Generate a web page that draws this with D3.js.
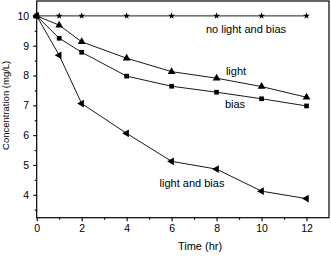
<!DOCTYPE html>
<html>
<head>
<meta charset="utf-8">
<script src="https://cdn.jsdelivr.net/npm/d3@7"></script>
<style>
  body { margin: 0; background: #fff; }
  text { font-family: "Liberation Sans", Arial, sans-serif; fill: #000; }
</style>
</head>
<body>
<div id="chart"></div>
<script>
// time points (hr)
const times = [0, 1, 2, 4, 6, 8, 10, 12];
// concentration (mg/L) per condition
const noLightBias = [10, 10, 10, 10, 10, 10, 10, 10];
const lightOnly = [10, 9.69, 9.13, 8.58, 8.13, 7.91, 7.63, 7.27];
const biasOnly = [10, 9.25, 8.78, 7.98, 7.64, 7.44, 7.22, 6.98];
const lightAndBias = [10, 8.68, 7.06, 6.06, 5.12, 4.86, 4.12, 3.87];
const seriesNames = ["no light and bias", "light", "bias", "light and bias"];
const xTicks = [0, 2, 4, 6, 8, 10, 12];
const yTicks = [4, 5, 6, 7, 8, 9, 10];

const width = 331, height = 257;
const m = {left: 36.7, right: 2, top: 1, bottom: 39.3};

let svg = d3.select("#chart").append("svg")
    .attr("width", width).attr("height", height);

let x = d3.scaleLinear().domain([0, 13]).range([m.left, width - m.right]);
let y = d3.scaleLinear().domain([3.23, 10.5]).range([height - m.bottom, m.top]);

// frame
svg.append("rect")
    .attr("x", x(0)).attr("y", y(10.5))
    .attr("width", x(13) - x(0)).attr("height", y(3.23) - y(10.5))
    .attr("fill", "none").attr("stroke", "#000").attr("stroke-width", 1.2);

// x axis
let xAxis = svg.append("g").attr("transform", `translate(0,${y(3.23)})`)
    .call(d3.axisBottom(x).tickValues(xTicks).tickSize(3.5).tickPadding(3).tickSizeOuter(0));
svg.append("g").attr("transform", `translate(0,${y(3.23)})`)
    .call(d3.axisBottom(x).tickValues([1, 3, 5, 7, 9, 11]).tickSize(2).tickFormat("").tickSizeOuter(0));

// y axis
svg.append("g").attr("transform", `translate(${x(0)},0)`)
    .call(d3.axisLeft(y).tickValues(yTicks).tickSize(3.5).tickPadding(4).tickSizeOuter(0));
svg.append("g").attr("transform", `translate(${x(0)},0)`)
    .call(d3.axisLeft(y).tickValues([3.5, 4.5, 5.5, 6.5, 7.5, 8.5, 9.5]).tickSize(2).tickFormat("").tickSizeOuter(0));

svg.selectAll(".domain").remove();
svg.selectAll(".tick line").attr("stroke", "#000").attr("stroke-width", 1.1);
svg.selectAll(".tick text").attr("font-size", 10.5)
    .attr("font-family", "Liberation Sans, Arial, sans-serif");

// axis titles
svg.append("text").attr("x", 200).attr("y", 250)
    .attr("text-anchor", "middle").attr("font-size", 11).text("Time (hr)");
svg.append("text")
    .attr("transform", `translate(9,${(m.top + height - m.bottom) / 2 - 4}) rotate(-90)`)
    .attr("text-anchor", "middle").attr("font-size", 9.5).text("Concentration (mg/L)");

// series
const allSeries = [noLightBias, lightOnly, biasOnly, lightAndBias];
const symbols = [
    d3.symbol().type(d3.symbolStar).size(14),
    d3.symbol().type(d3.symbolTriangle).size(26),
    d3.symbol().type(d3.symbolSquare).size(22),
    d3.symbol().type(d3.symbolTriangle).size(26)
];
const rotations = [0, 0, 0, -90];

let line = d3.line().x((d, i) => x(times[i])).y(d => y(d));

allSeries.forEach((vals, k) => {
    svg.append("path").datum(vals)
        .attr("d", line)
        .attr("fill", "none").attr("stroke", "#000").attr("stroke-width", 0.9);
    svg.append("g").selectAll("path").data(vals).join("path")
        .attr("d", symbols[k])
        .attr("transform", (d, i) => `translate(${x(times[i])},${y(d)}) rotate(${rotations[k]})`)
        .attr("fill", "#000");
});

// series labels
const labelPos = [[246, 33], [236, 75], [235, 108], [192, 187]];
seriesNames.forEach((name, k) => {
    svg.append("text").attr("x", labelPos[k][0]).attr("y", labelPos[k][1])
        .attr("text-anchor", "middle").attr("font-size", 11).text(name);
});
</script>
</body>
</html>
